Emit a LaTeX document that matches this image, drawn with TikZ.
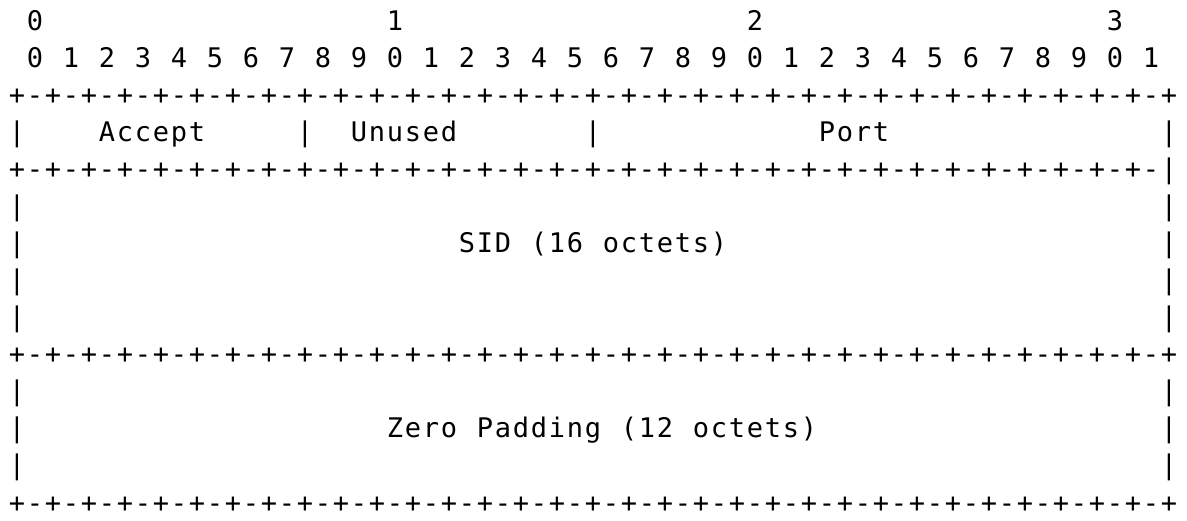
\documentclass[tikz,border=0pt]{standalone}
\usepackage{fontspec}
\newfontfamily\asciifont{DejaVu Sans Mono}

% Every character sits in a fixed 18pt cell, so the columns line up exactly.
\ExplSyntaxOn
\NewDocumentCommand\cells{m}
  { \str_map_inline:nn {#1} { \makebox[18pt][c]{##1} } }
\NewDocumentCommand\ruler{m}
  { \prg_replicate:nn {32} { \cells{+-} } \cells{#1} }
\ExplSyntaxOff

\tikzset{
  ascii/.style={anchor=base west, inner sep=0pt, outer sep=0pt,
                font=\asciifont\fontsize{27}{27}\selectfont},
}

% \cellat{name}{column}{row}{text}
\newcommand\cellat[4]{\node[ascii] (#1) at ({8+18*(#2)},{31+37.0*(#3)}) {\cells{#4}};}
% \ruleat{name}{row}{last character}
\newcommand\ruleat[3]{\node[ascii] (#1) at (8,{31+37.0*(#2)}) {\ruler{#3}};}

\begin{document}
\begin{tikzpicture}[x=1pt,y=-1pt]
  \useasboundingbox[fill=white] (0,0) rectangle (1187,521);

  % bit ruler
  \cellat{tens0}{1}{0}{0}
  \cellat{tens1}{21}{0}{1}
  \cellat{tens2}{41}{0}{2}
  \cellat{tens3}{61}{0}{3}
  \cellat{units}{1}{1}{0 1 2 3 4 5 6 7 8 9 0 1 2 3 4 5 6 7 8 9 0 1 2 3 4 5 6 7 8 9 0 1}

  % first word: Accept / Unused / Port
  \ruleat{top}{2}{+}
  \cellat{w1l}{0}{3}{|}
  \cellat{accept}{5}{3}{Accept}
  \cellat{w1a}{16}{3}{|}
  \cellat{unused}{19}{3}{Unused}
  \cellat{w1b}{32}{3}{|}
  \cellat{port}{45}{3}{Port}
  \cellat{w1r}{64}{3}{|}
  \ruleat{sep1}{4}{|}

  % SID block
  \cellat{s5l}{0}{5}{|}  \cellat{s5r}{64}{5}{|}
  \cellat{s6l}{0}{6}{|}  \cellat{sid}{25}{6}{SID (16 octets)}  \cellat{s6r}{64}{6}{|}
  \cellat{s7l}{0}{7}{|}  \cellat{s7r}{64}{7}{|}
  \cellat{s8l}{0}{8}{|}  \cellat{s8r}{64}{8}{|}
  \ruleat{sep2}{9}{+}

  % padding block
  \cellat{p10l}{0}{10}{|}  \cellat{p10r}{64}{10}{|}
  \cellat{p11l}{0}{11}{|}  \cellat{pad}{21}{11}{Zero Padding (12 octets)}  \cellat{p11r}{64}{11}{|}
  \cellat{p12l}{0}{12}{|}  \cellat{p12r}{64}{12}{|}
  \ruleat{bottom}{13}{+}
\end{tikzpicture}
\end{document}
